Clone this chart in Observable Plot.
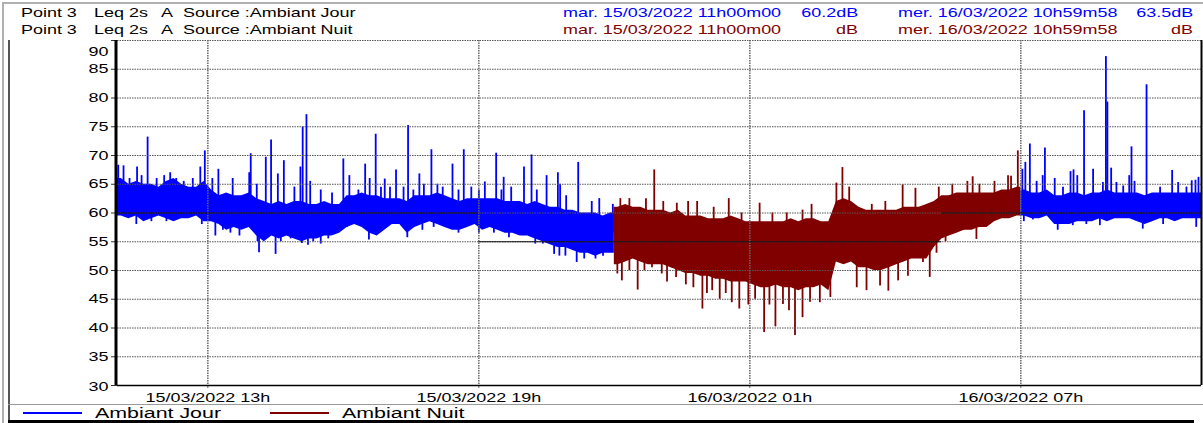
<!DOCTYPE html>
<html><head><meta charset="utf-8">
<script src="https://cdn.jsdelivr.net/npm/d3@7"></script>
<script src="https://cdn.jsdelivr.net/npm/@observablehq/plot@0.6"></script>
<style>
body{margin:0;background:#fff;}
#fig{position:relative;width:1203px;height:423px;overflow:hidden;font-family:"Liberation Sans",Arial,sans-serif;}
#fig svg{position:absolute;left:0;top:0;}
.t{position:absolute;white-space:nowrap;font-size:13px;line-height:16px;color:#000;}
.l{transform-origin:left center;transform:scaleX(1.38);}
.r{transform-origin:right center;transform:scaleX(1.38);}
.b{position:absolute;}
</style></head><body><div id="fig"></div>
<script>
// ---- données ----
const debut = Date.UTC(2022, 2, 15, 11, 0, 0);
const fin = Date.UTC(2022, 2, 16, 11, 0, 0);
const pasMinutes = 10;
// enveloppe haute / basse du signal par tranche de 10 min (dB)
const haut = [
  66, 65, 65.5, 65, 65, 64.5, 65.5, 66, 65, 64.5, 64.5, 65.5,
  64, 63, 63.5, 63, 63, 63.5, 62.5, 62, 61.5, 62, 61.5, 62, 62, 61.5, 61.5, 62, 61.5, 61.5, 63, 63, 63.5, 63, 63, 62.5,
  62.5, 62.5, 62, 63, 63, 63, 63.5, 63, 62.5, 62, 62.5, 62.5, 62.5, 62.5, 62.5, 62, 62, 62, 61.5, 62, 61.5, 61, 61, 60.5, 60.5, 60, 60, 60, 59.5, 60,
  61, 61.5, 61, 61, 60.5, 60.5,
  60.5, 60, 60.5, 59.5, 59.5, 59.5, 59, 59, 59, 59.5, 59, 58.5, 58.5, 58.5, 58.5, 58.5, 58.5, 59, 58.5, 59, 59, 58.5, 58.5,
  62, 62.5, 62, 61, 60.5, 60.5, 60.5, 60.5, 60.5, 61, 61, 61, 61.5,
  62, 63, 63, 63.5, 63.5, 63.5, 63.5, 63.5, 63.5, 64, 64, 64.5,
  64, 63.5, 63.5, 64, 63, 63, 63.5, 63.5, 63, 63.5, 63.5, 64, 63.5, 63.5, 63.5, 63.5, 63, 63.5, 63.5, 63.5, 63.5, 63.5, 63.5, 63.5
];
const bas = [
  59.5, 59, 59.5, 58.5, 59, 59.5, 59, 58.5, 59, 59, 59.5, 58.5,
  58.5, 58, 57, 57.5, 57, 57.5, 56, 55, 56, 55.5, 56, 55.5, 55, 55.5, 55.5, 56, 56, 56.5, 57.5, 58, 57.5, 56.5, 56, 57,
  58, 58, 56.5, 57.5, 58, 58.5, 58, 57.5, 57, 57, 57.5, 58, 57, 57.5, 57, 56.5, 56.5, 56, 56, 55.5, 55, 54.5, 54, 54, 53.5, 53, 53, 52.5, 53, 53,
  51, 51.5, 52, 51.5, 51, 51,
  51, 50.5, 50, 49.5, 49.5, 49, 49, 48.5, 48.5, 48, 48, 48, 47.5, 47, 47, 47.5, 47, 47, 46.5, 47, 47, 47.5, 46.5,
  51.5, 51, 51.5, 50.5, 50.5, 50, 50, 50.5, 51, 51.5, 52, 52, 52,
  54, 55.5, 56, 56.5, 57, 57, 57.5, 57.5, 58.5, 59, 59, 59.5,
  59.5, 59, 59, 59.5, 58, 58, 58, 58.5, 58.5, 58.5, 59, 58.5, 59, 59, 59, 58.5, 58, 58.5, 59, 59, 58.5, 59, 59, 59
];
// pics et creux isolés : [heure, dB]
const pics = [
  ["11:01",68.3],["11:08",68.2],["11:16",66],["11:26",68],["11:32",66.5],["11:40",73.2],["11:52",66],["12:02",66.5],["12:10",67],["12:18",66],["12:28",65.5],["12:40",66],["12:50",68],["12:56",70.8],["13:06",66],["13:14",67.6],["13:33",66],["13:55",67],["13:57",70.3],["14:05",65],["14:17",69.7],["14:24",72.7],["14:33",66.8],["14:41",69.1],["14:55",64.5],["15:03",68],["15:06",75],["15:11",77.1],["15:16",65.5],["15:30",64],["15:45",63.5],["16:00",69.4],["16:08",66.5],["16:20",64],["16:29",68.5],["16:35",66],["16:43",73.7],["16:50",64.5],["16:55",65.9],["17:02",64.5],["17:10",67.5],["17:20",64.5],["17:26",75.2],["17:33",64],["17:41",66.8],["17:47",65],["17:57",71],["18:05",65],["18:12",64.5],["18:25",68.5],["18:33",64],["18:40",71],["18:50",64.5],["19:00",64],["19:08",65.4],["19:23",70.4],["19:30",64],["19:33",66.2],["19:43",64.5],["20:00",68],["20:10",70.1],["20:17",64],["20:30",66.5],["20:45",67],["20:48",65],["20:56",63],["21:12",68.8],["21:30",62],["21:40",62.5],["21:58",61.5],
  ["11:25",58],["11:45",58.5],["12:05",58.5],["12:52",58],["13:10",56],["13:20",57],["13:30",56.5],["13:42",56],["14:06",55],["14:08",53.1],["14:30",52.8],["14:37",55],["14:50",55.5],["15:05",54.7],["15:13",54.4],["15:20",55],["15:30",54.6],["15:40",55.5],["16:05",57.5],["16:34",55.3],["16:45",56.5],["17:25",55.7],["17:45",57],["18:00",57.5],["18:33",56.5],["19:00",56.5],["19:20",56.5],["19:40",55.7],["20:15",54.6],["20:25",54.6],["20:40",52.8],["20:47",52.5],["20:55",52.5],["21:10",51.4],["21:20",52],["21:35",52],["21:45",52.5],
  ["22:08",62.5],["22:20",62.5],["22:42",62.5],["22:53",67.5],["23:05",62],["23:23",61.7],["23:38",62],["23:50",62],["00:12",61],["00:32",62.5],["00:49",60],["01:13",61.7],["01:30",60],["01:49",60],["02:10",60.5],["02:22",61.5],["02:55",65.2],["03:03",67.9],["03:12",64.5],["03:42",61.5],["04:00",62],["04:23",64.9],["04:40",64.3],["05:11",64.5],["05:29",65],["05:49",65.5],["05:56",66.3],["06:05",65],["06:25",65.5],["06:43",66.5],["06:47",66.4],["06:56",70.8],
  ["22:04",49.4],["22:10",48.2],["22:20",50],["22:31",46.6],["22:40",50],["22:50",50.5],["23:03",49.4],["23:10",48],["23:22",48.8],["23:35",47.5],["23:45",47],["23:57",43.3],["00:03",46],["00:10",46.5],["00:20",45],["00:28",46],["00:36",44.4],["00:46",43.3],["00:58",44],["01:07",45],["01:19",39.2],["01:26",44],["01:34",40.2],["01:44",44.1],["01:52",43],["02:00",38.7],["02:10",41.8],["02:20",44.5],["02:33",44.4],["02:47",45.3],["03:22",47],["03:35",46.5],["03:53",47.3],["04:04",46.4],["04:17",48.2],["04:30",49],["04:50",51.4],["04:59",48.8],["05:08",53],["05:20",55],["05:43",57],["06:01",55.4],["06:19",58],
  ["07:02",67.6],["07:06",68.8],["07:12",72],["07:21",65.5],["07:29",66.5],["07:32",71.3],["07:45",66],["07:56",64.5],["08:06",67.2],["08:10",67.5],["08:15",66.5],["08:24",77.8],["08:36",67.6],["08:49",65.3],["08:53",87.2],["08:55",79.3],["09:00",67.8],["09:07",65.3],["09:16",64.7],["09:24",66.5],["09:27",71.5],["09:31",65.5],["09:47",82.3],["10:05",64.5],["10:21",67.4],["10:29",65.3],["10:40",64.5],["10:47",65.6],["10:52",65.7],["10:56",66.2],
  ["07:04",58.5],["07:16",58.8],["07:49",57],["08:09",57.8],["08:27",58],["08:45",57.8],["09:42",57.2],["10:09",58],["10:53",57.5]
];
// lignes de grille foncées [début, fin, dB]
const seuils = [["11:00","19:00",60],["19:00","05:15",55],["05:15","11:00",60]];
const ticksY = [30,35,40,45,50,55,60,65,70,75,80,85,90];
const ticksX = ["13:00","19:00","01:00","07:00"];
const couleurs = {jour: "#0000ff", nuit: "#800000"};

// ---- préparation ----
const MIN = 60000;
function heure(s, estFin) {
  const [h, m] = s.split(":").map(Number);
  let d = Date.UTC(2022, 2, 15, h, m);
  if (h < 11 || (estFin && h === 11 && m === 0)) d += 24*60*MIN;
  return new Date(d);
}
function periode(t) { const h = t.getUTCHours(); return (h >= 22 || h < 7) ? "nuit" : "jour"; }
const tranches = haut.map((v, i) => {
  const t1 = new Date(debut + i*pasMinutes*MIN);
  return {t1, t2: new Date(debut + (i+1)*pasMinutes*MIN), tm: new Date(debut + (i+0.5)*pasMinutes*MIN), haut: v, bas: bas[i], p: periode(t1)};
});
const points = [];
let seg = 0;
tranches.forEach((d, i) => {
  const prev = tranches[i-1], next = tranches[i+1];
  if (!prev || prev.p !== d.p) { seg++; points.push({t: d.t1, haut: d.haut, bas: d.bas, p: d.p, seg}); }
  points.push({t: d.tm, haut: d.haut, bas: d.bas, p: d.p, seg});
  if (!next || next.p !== d.p) points.push({t: d.t2, haut: d.haut, bas: d.bas, p: d.p, seg});
});
const picsData = pics.map(([h, v]) => {
  const t = heure(h);
  const i = Math.min(tranches.length-1, Math.floor((t - debut)/(pasMinutes*MIN)));
  return {t, v, base: (tranches[i].haut + tranches[i].bas)/2, p: periode(t)};
});
const seuilsData = seuils.map(([a, b, v]) => ({a: heure(a), b: heure(b, true), v}));
const ticksXd = ticksX.map(s => heure(s));

const chart = Plot.plot({
  width: 1203, height: 423,
  marginLeft: 117, marginRight: 2, marginTop: 40, marginBottom: 38,
  style: {fontFamily: "Liberation Sans, Arial, sans-serif", fontSize: "13px", background: "transparent", overflow: "visible"},
  x: {type: "utc", domain: [new Date(debut), new Date(fin)]},
  y: {domain: [30, 90]},
  marks: [
    Plot.areaY(points, {x: "t", y1: "bas", y2: "haut", z: "seg", fill: d => couleurs[d.p], curve: "linear"}),
    Plot.ruleX(picsData, {x: "t", y1: "base", y2: "v", stroke: d => couleurs[d.p], strokeWidth: 1.8}),
    Plot.gridY(ticksY, {stroke: "#555", strokeOpacity: 1, strokeDasharray: "1.5,1"}),
    Plot.gridX(ticksXd, {stroke: "#666", strokeOpacity: 1, strokeWidth: 1.5, strokeDasharray: "1.5,1"}),
    Plot.ruleY(seuilsData, {x1: "a", x2: "b", y: "v", stroke: "#111", strokeWidth: 1}),
    Plot.axisY({ticks: ticksY, tickSize: 6, tickPadding: 3, stroke: "#333", fill: "#000", fontSize: 13}),
    Plot.axisX({ticks: ticksXd, tickSize: 3, tickPadding: 4, stroke: "#666", fill: "#000", fontSize: 13, tickFormat: d3.utcFormat("%d/%m/%Y %Hh")}),
    Plot.ruleY([30], {stroke: "#000", strokeWidth: 1.5}),
    Plot.ruleX([new Date(debut)], {stroke: "#000", strokeWidth: 3, dx: -1.5}),
    Plot.ruleX([new Date(fin)], {stroke: "#000", strokeWidth: 2, dx: 0})
  ]
});
const fig = document.getElementById("fig");
fig.appendChild(chart);
chart.querySelectorAll("text").forEach(t => {
  const w = t.getComputedTextLength();
  t.setAttribute("textLength", (w*1.38).toFixed(1));
  t.setAttribute("lengthAdjust", "spacingAndGlyphs");
  if (t.textContent === "90") t.setAttribute("dy", "0.9em");
  if (t.textContent === "30") t.setAttribute("dy", "0.1em");
});

// ---- cadre ----
function boite(x, y, w, h, c) {
  const d = document.createElement("div"); d.className = "b";
  Object.assign(d.style, {left: x+"px", top: y+"px", width: w+"px", height: h+"px", background: c});
  fig.appendChild(d);
}
boite(2, 2, 1201, 1.5, "#b0b0b0");
boite(2, 2, 1.5, 421, "#b0b0b0");
boite(8, 40, 1.5, 382, "#555");
boite(8, 403.5, 1195, 1.5, "#999");
boite(8, 420, 1186, 2.5, "#000");

// ---- en-tête et légende ----
function texte(s, x, y, opts = {}) {
  const d = document.createElement("div");
  d.className = "t " + (opts.right ? "r" : "l");
  d.textContent = s;
  d.style.top = y + "px";
  if (opts.right) d.style.right = (1203 - x) + "px"; else d.style.left = x + "px";
  if (opts.color) d.style.color = opts.color;
  if (opts.size) { d.style.fontSize = opts.size + "px"; d.style.lineHeight = (opts.size + 2) + "px"; }
  fig.appendChild(d);
}
const lignes = [
  {src: "Source :Ambiant Jour", c: couleurs.jour, v1: "60.2dB", v2: "63.5dB", y: 5},
  {src: "Source :Ambiant Nuit", c: couleurs.nuit, v1: "dB", v2: "dB", y: 22}
];
lignes.forEach(L => {
  texte("Point 3", 21, L.y);
  texte("Leq 2s", 94, L.y);
  texte("A", 161, L.y);
  texte(L.src, 183, L.y);
  texte("mar. 15/03/2022 11h00m00", 563, L.y, {color: L.c});
  texte(L.v1, 858, L.y, {color: L.c, right: true});
  texte("mer. 16/03/2022 10h59m58", 898, L.y, {color: L.c});
  texte(L.v2, 1193, L.y, {color: L.c, right: true});
});
boite(23, 412, 59, 2, couleurs.jour);
boite(270, 412, 59, 2, couleurs.nuit);
texte("Ambiant Jour", 95, 404, {size: 15.5});
texte("Ambiant Nuit", 342, 404, {size: 15.5});
</script></body></html>
